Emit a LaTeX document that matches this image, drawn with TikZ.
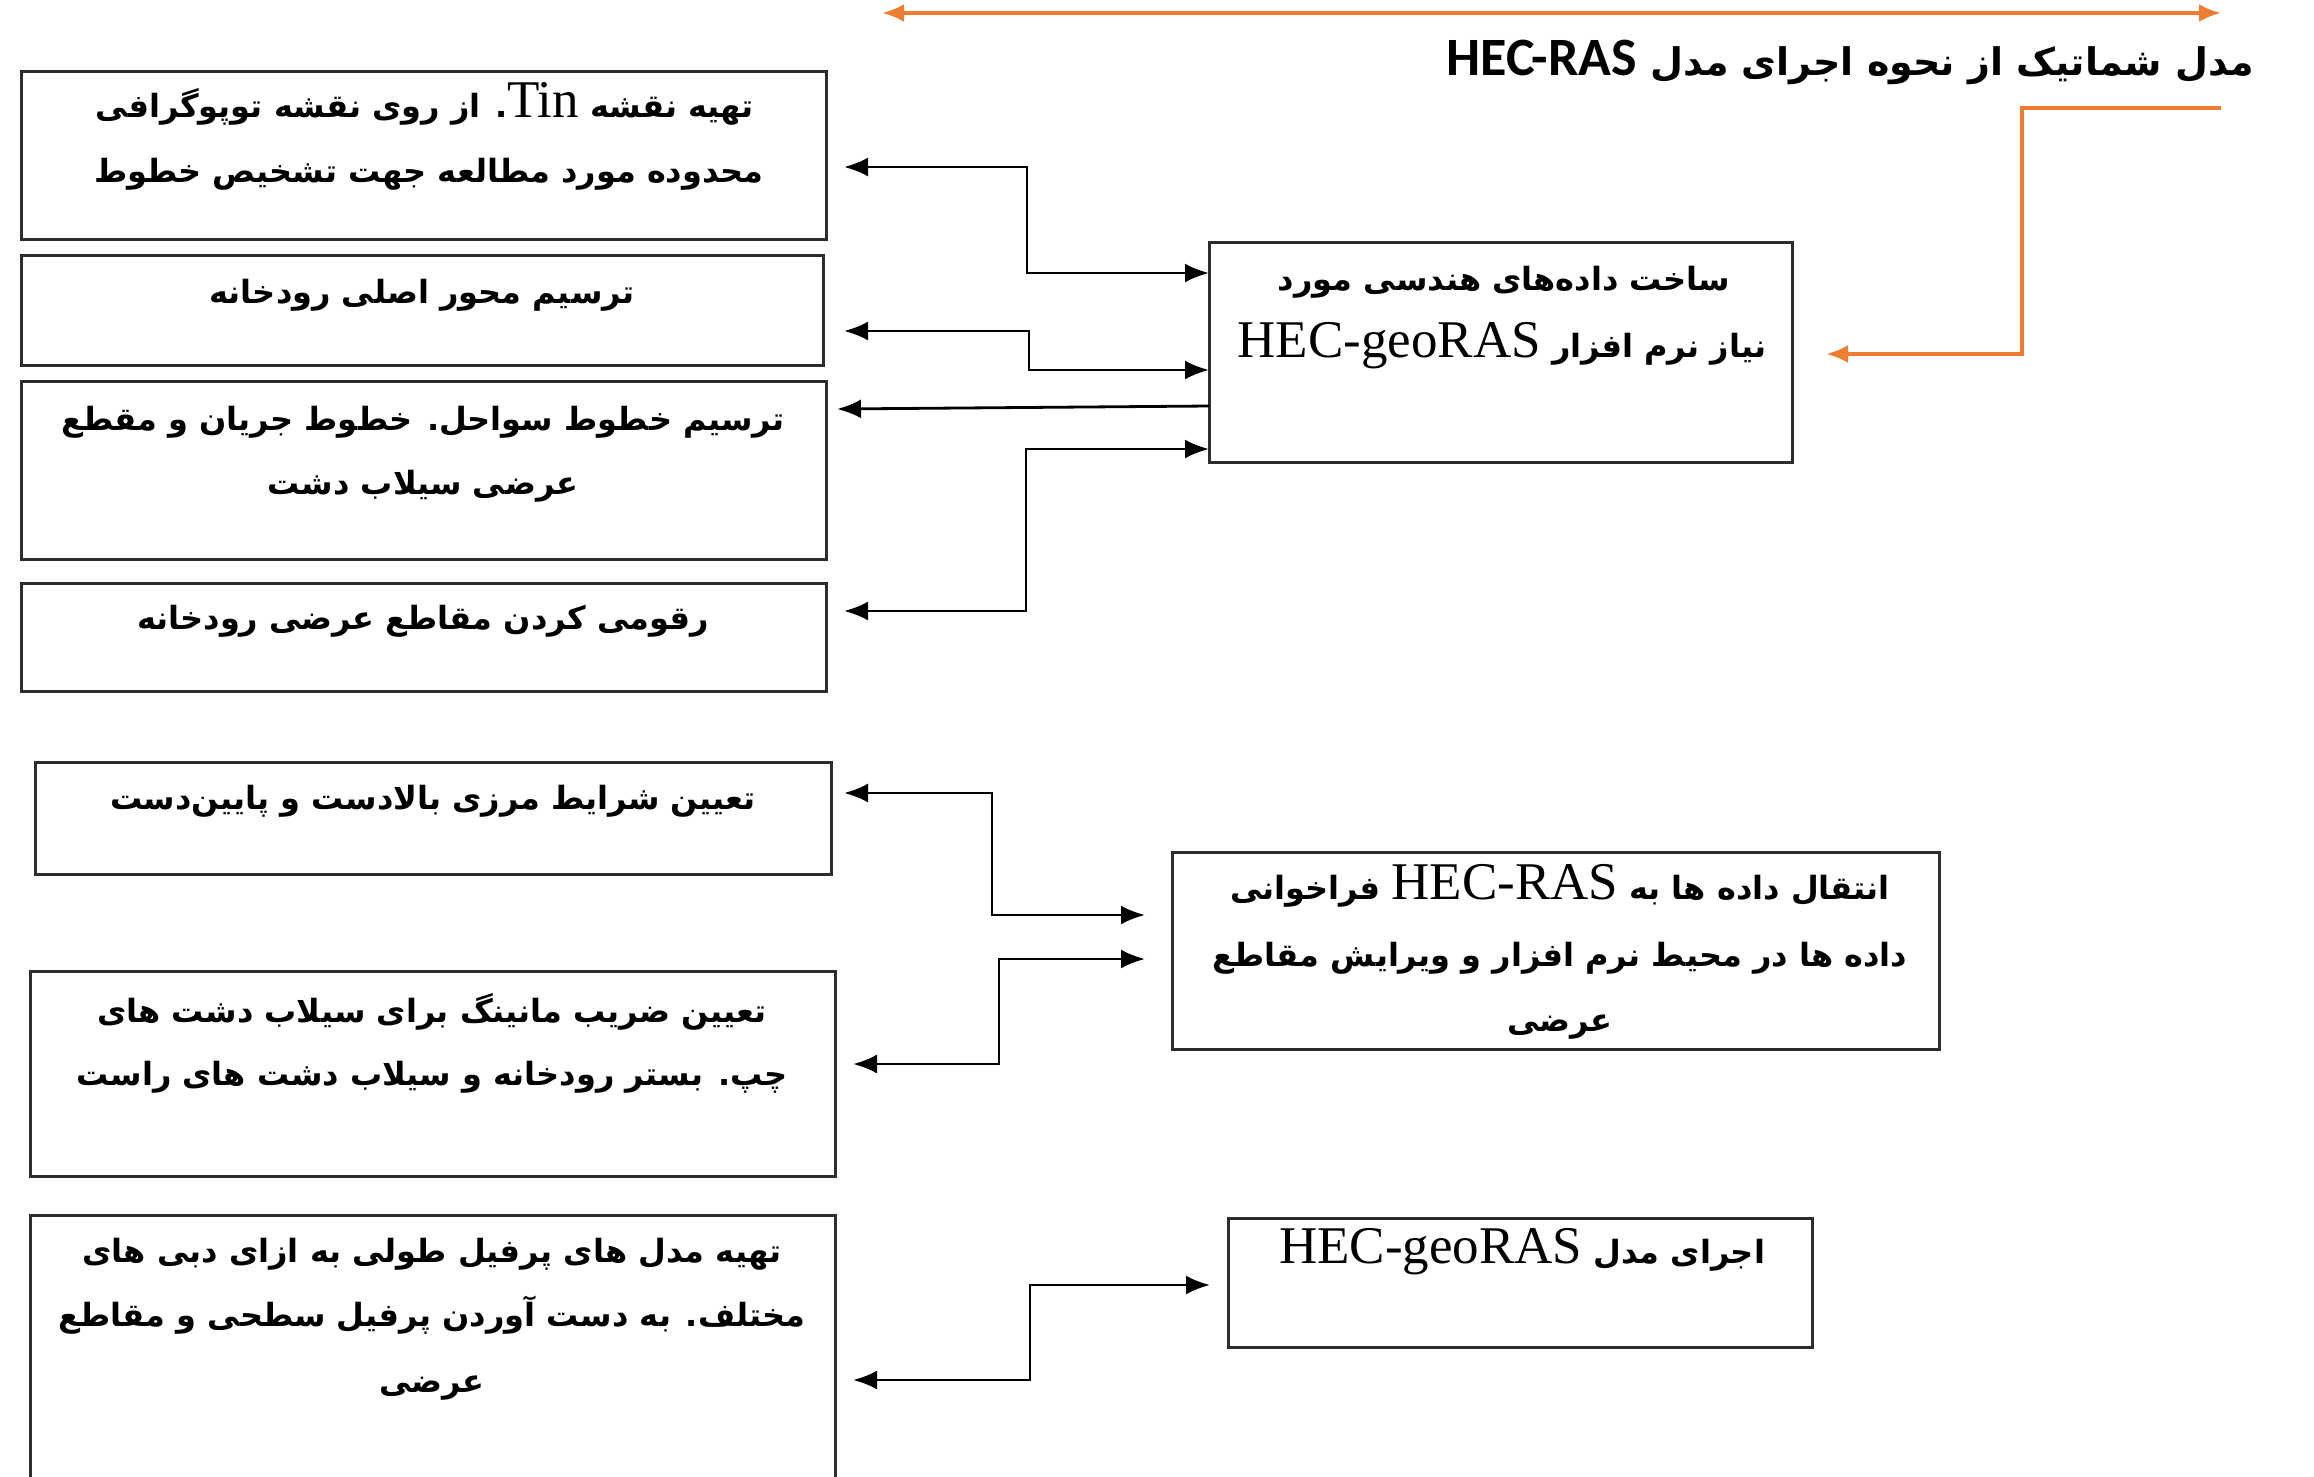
\documentclass[tikz,border=0pt]{standalone}
\usepackage{fontspec}
\usetikzlibrary{arrows.meta,calc}
\TeXXeTstate=1
\newfontfamily\fa[Script=Arabic]{DejaVu Sans}
\newfontfamily\tnr{Liberation Serif}
\newfontfamily\calfont{Carlito}
\definecolor{orng}{RGB}{237,125,49}
\definecolor{boxc}{RGB}{45,45,45}
\newcommand{\lat}[1]{\beginL{\tnr\mdseries\fontsize{53}{56}\selectfont #1}\endL}
\tikzset{
  box/.style={draw=boxc, line width=3pt, outer sep=0pt, inner sep=0pt},
  txt/.style={font=\fa\bfseries\fontsize{32}{40}\selectfont, inner sep=0pt, text height=24pt, text depth=10pt, anchor=center},
  con/.style={line width=2.8pt, black},
  tipb/.tip={Latex[length=24pt,width=19pt]},
  dbl/.style={con, tipb-tipb},
  sgl/.style={con, -tipb},
  ocon/.style={line width=4pt, orng},
  tipo/.tip={Latex[length=22pt,width=18pt]}
}
\begin{document}
\begin{tikzpicture}[x=1pt,y=-1pt]
\useasboundingbox[fill=white] (0,0) rectangle (2314,1476);

% boxes
\node[box, minimum width=805pt, minimum height=168pt] (b1) at (423.5,155) {};
\node[box, minimum width=802pt, minimum height=110pt] (b2) at (422,310) {};
\node[box, minimum width=805pt, minimum height=178pt] (b3) at (423.5,470) {};
\node[box, minimum width=805pt, minimum height=108pt] (b4) at (423.5,637) {};
\node[box, minimum width=583pt, minimum height=220pt] (c1) at (1500.5,352) {};
\node[box, minimum width=796pt, minimum height=112pt] (b5) at (433,818) {};
\node[box, minimum width=805pt, minimum height=205pt] (b6) at (432.5,1073.5) {};
\node[box, minimum width=805pt, minimum height=275pt] (b7) at (432.5,1352.5) {};
\node[box, minimum width=767pt, minimum height=197pt] (c2) at (1555.5,950.5) {};
\node[box, minimum width=584pt, minimum height=129pt] (c3) at (1520,1282.5) {};

% texts
\node[txt] (t1a) at (425,110) {\beginR تهیه نقشه \lat{Tin}. از روی نقشه توپوگرافی\endR};
\node[txt] (t1b) at (429,175) {\beginR محدوده مورد مطالعه جهت تشخیص خطوط\endR};
\node[txt] (t2a) at (422,296) {\beginR ترسیم محور اصلی رودخانه\endR};
\node[txt] (t3a) at (423,423) {\beginR ترسیم خطوط سواحل. خطوط جریان و مقطع\endR};
\node[txt] (t3b) at (423,487) {\beginR عرضی سیلاب دشت\endR};
\node[txt] (t4a) at (423,622) {\beginR رقومی کردن مقاطع عرضی رودخانه\endR};
\node[txt] (tc1a) at (1504,283) {\beginR ساخت داده^^^^200cهای هندسی مورد\endR};
\node[txt] (tc1b) at (1502,350) {\beginR نیاز نرم افزار \lat{HEC-geoRAS}\endR};
\node[txt] (t5a) at (433,802) {\beginR تعیین شرایط مرزی بالادست و پایین^^^^200cدست\endR};
\node[txt] (t6a) at (432,1015) {\beginR تعیین ضریب مانینگ برای سیلاب دشت های\endR};
\node[txt] (t6b) at (432,1078) {\beginR چپ. بستر رودخانه و سیلاب دشت های راست\endR};
\node[txt] (t7a) at (432,1255) {\beginR تهیه مدل های پرفیل طولی به ازای دبی های\endR};
\node[txt] (t7b) at (432,1319) {\beginR مختلف. به دست آوردن پرفیل سطحی و مقاطع\endR};
\node[txt] (t7c) at (432,1385) {\beginR عرضی\endR};
\node[txt] (tc2a) at (1560,892) {\beginR انتقال داده ها به \lat{HEC-RAS} فراخوانی\endR};
\node[txt] (tc2b) at (1560,959) {\beginR داده ها در محیط نرم افزار و ویرایش مقاطع\endR};
\node[txt] (tc2c) at (1560,1024) {\beginR عرضی\endR};
\node[txt] (tc3a) at (1522,1256) {\beginR اجرای مدل \lat{HEC-geoRAS}\endR};

% title
\node[anchor=east, inner sep=0pt, text height=34pt, text depth=12pt,
      font=\fa\bfseries\fontsize{38}{44}\selectfont] (title) at (2254,64)
  {\beginR مدل شماتیک از نحوه اجرای مدل \beginL{\calfont\bfseries\fontsize{54}{58}\selectfont HEC-RAS}\endL\endR};

% orange connectors
\coordinate (oL) at (882,13);
\coordinate (oR) at (2221,13);
\coordinate (oS) at (2221,108);
\draw[ocon, tipo-tipo] (oL) -- (oR);
\draw[ocon, -tipo] (oS) -- ++(-199,0) |- ([xshift=34pt,yshift=-2pt]c1.east);

% black connectors, upper group
\draw[dbl] ([xshift=18pt,yshift=-12pt]b1.east) -- ++(183,0) |- ([yshift=79pt]c1.west);
\draw[dbl] ([xshift=21pt,yshift=-21pt]b2.east) -- ++(185,0) |- ([yshift=-18pt]c1.west);
\draw[sgl] ([yshift=-54pt]c1.west) -- ([xshift=11pt,yshift=61pt]b3.east);
\draw[dbl] ([xshift=18pt,yshift=26pt]b4.east) -- ++(182,0) |- ([yshift=-97pt]c1.west);

% black connectors, lower group
\draw[dbl] ([xshift=13pt,yshift=25pt]b5.east) -- ++(148,0) |- ([xshift=-27pt,yshift=35.5pt]c2.west);
\draw[dbl] ([xshift=18pt,yshift=9.5pt]b6.east) -- ++(146,0) |- ([xshift=-27pt,yshift=-8.5pt]c2.west);
\draw[dbl] ([xshift=18pt,yshift=-27.5pt]b7.east) -- ++(177,0) |- ([xshift=-18pt,yshift=-2.5pt]c3.west);
\end{tikzpicture}
\end{document}
